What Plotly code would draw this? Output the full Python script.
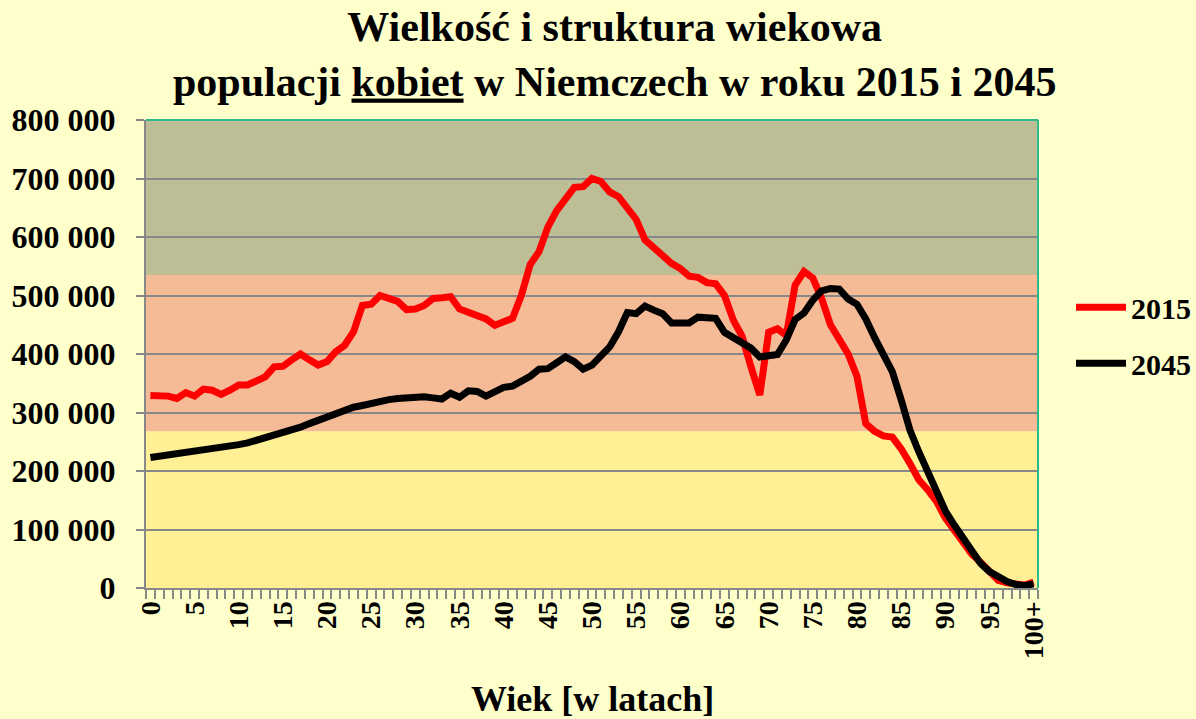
import plotly.graph_objects as go

# Wiek (0..100+) i liczba kobiet w Niemczech
ages = list(range(101))
age_labels = [str(a) for a in range(0, 100, 5)] + ["100+"]
age_label_pos = list(range(0, 101, 5))

pop_2015 = [
    329000, 329000, 328000, 324000, 334000, 328000, 340000, 338000, 331000, 338000,
    347000, 347000, 354000, 361000, 378000, 379000, 390000, 400000, 390000, 381000,
    387000, 404000, 415000, 438000, 483000, 485000, 500000, 495000, 490000, 476000,
    477000, 483000, 495000, 496000, 498000, 477000, 471000, 467000, 460000, 449000,
    456000, 461000, 500000, 553000, 575000, 617000, 645000, 665000, 685000, 686000,
    700000, 695000, 677000, 669000, 648000, 630000, 595000, 582000, 567000, 555000,
    546000, 533000, 531000, 522000, 520000, 500000, 458000, 430000, 378000, 330000,
    437000, 443000, 432000, 518000, 541000, 530000, 495000, 450000, 425000, 400000,
    362000, 281000, 268000, 260000, 258000, 238000, 213000, 185000, 168000, 148000,
    120000, 99000, 80000, 58000, 44000, 28000, 13000, 9000, 6000, 5000,
    10000,
]

pop_2045 = [
    223000, 225000, 227000, 229000, 231000, 233000, 235000, 237000, 240000, 242000,
    245000, 248000, 252000, 256000, 260000, 265000, 270000, 275000, 281000, 287000,
    293000, 298000, 304000, 309000, 312000, 316000, 320000, 322000, 324000, 326000,
    327000, 327000, 325000, 323000, 333000, 326000, 337000, 336000, 328000, 334000,
    343000, 345000, 352000, 362000, 374000, 375000, 385000, 395000, 387000, 374000,
    381000, 398000, 412000, 438000, 471000, 469000, 482000, 475000, 469000, 453000,
    452000, 453000, 463000, 462000, 461000, 437000, 427000, 420000, 410000, 395000,
    398000, 399000, 424000, 459000, 470000, 492000, 508000, 512000, 511000, 494000,
    485000, 460000, 428000, 400000, 370000, 322000, 270000, 233000, 198000, 165000,
    132000, 108000, 85000, 60000, 42000, 28000, 18000, 11000, 6000, 4000,
    7000,
]

# pasy tla (granice w liczbie osob)
band_edges = [0, 268000, 535000, 800000]
band_colors = ["#FFF096", "#F5BA96", "#BDBD96"]

FONT = "Liberation Serif, Times New Roman, serif"

fig = go.Figure()

fig.add_trace(go.Scatter(x=ages, y=pop_2015, mode="lines", name="2015",
                         line=dict(color="#FF0000", width=7), legendgroup="a"))
fig.add_trace(go.Scatter(x=ages, y=pop_2045, mode="lines", name="2045",
                         line=dict(color="#000000", width=7), legendgroup="b"))

for i in range(3):
    fig.add_shape(type="rect", xref="x domain", yref="y", x0=0, x1=1,
                  y0=band_edges[i], y1=band_edges[i + 1],
                  fillcolor=band_colors[i], line_width=0, layer="below")

# ramka gorna i prawa
fig.add_shape(type="line", xref="x domain", yref="y domain", x0=0, x1=1, y0=1, y1=1,
              line=dict(color="#2DBB8C", width=2))
fig.add_shape(type="line", xref="x domain", yref="y domain", x0=1, x1=1, y0=0, y1=1,
              line=dict(color="#2DBB8C", width=2))

# tytul osi X jako adnotacja (dokladniejsze polozenie)
fig.add_annotation(text="Wiek [w latach]", xref="paper", yref="paper",
                   x=0.5, y=-0.238, xanchor="center", yanchor="middle", showarrow=False,
                   font=dict(family=FONT, size=36, color="black", weight="bold"))

fig.update_layout(
    width=1196, height=719,
    paper_bgcolor="#FFFFCC",
    plot_bgcolor="#FFFFCC",
    margin=dict(l=146, r=158, t=120, b=131, autoexpand=False),
    separators=", ",
    font=dict(family=FONT, color="black", weight="bold"),
    title=dict(
        text="Wielkość i struktura wiekowa<br>populacji <u>kobiet</u> w Niemczech w roku 2015 i 2045",
        font=dict(family=FONT, size=42, color="black", weight="bold"),
        x=0.514, xanchor="center", xref="container",
        y=0.943, yanchor="top", yref="container",
    ),
    legend=dict(
        x=1.037, xanchor="left", y=0.54, yanchor="middle",
        font=dict(family=FONT, size=30, color="black", weight="bold"),
        bgcolor="rgba(0,0,0,0)", tracegroupgap=14, traceorder="grouped",
        itemwidth=50,
    ),
    showlegend=True,
)

fig.update_xaxes(
    range=[-0.5, 100.5],
    tickmode="array", tickvals=age_label_pos, ticktext=age_labels,
    tickangle=-90,
    tickfont=dict(family=FONT, size=28, color="black", weight="bold"),
    ticks="",
    minor=dict(ticks="outside", ticklen=9, tickcolor="#888888", tickwidth=1.5,
               dtick=1, tick0=-0.5, showgrid=False),
    showgrid=False, zeroline=False,
    showline=True, linecolor="#888888", linewidth=2,
    automargin=False,
)

fig.update_yaxes(
    range=[0, 800000], dtick=100000, tickformat=",d",
    tickfont=dict(family=FONT, size=32, color="black", weight="bold"),
    ticks="outside", ticklen=8, tickcolor="#888888", tickwidth=1.5,
    ticklabelstandoff=14,
    showgrid=True, gridcolor="#888888", gridwidth=1.5,
    zeroline=False,
    showline=True, linecolor="#888888", linewidth=2,
    automargin=False,
)

fig.write_html(
    "out.html",
    config={"displayModeBar": False},
    post_script="document.body.style.margin='0';document.body.style.background='#FFFFCC';",
)
